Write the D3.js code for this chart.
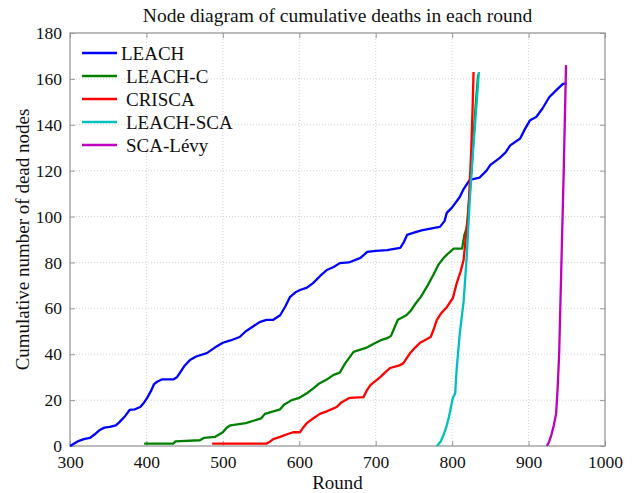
<!DOCTYPE html>
<html><head><meta charset="utf-8">
<script src="https://cdn.jsdelivr.net/npm/d3@7/dist/d3.min.js"></script>
<style>body{margin:0;background:#fff;} text{font-family:"Liberation Serif","Times New Roman",serif;fill:#111;}</style>
</head><body><svg id="chart" width="639" height="493"></svg>
<script>
const seriesNames = ["LEACH", "LEACH-C", "CRISCA", "LEACH-SCA", "SCA-Lévy"];
const seriesColors = ["#0000ff", "#008000", "#ff0000", "#00bfbf", "#bf00bf"];
const xTicks = [300, 400, 500, 600, 700, 800, 900, 1000];
const yTicks = [0, 20, 40, 60, 80, 100, 120, 140, 160, 180];

const leach = [[300,0],[305,1],[310,2],[318,3],[326,3.5],[332,5],[339,7],[345,8],[352,8.3],[360,9],[365,10.5],[372,13],[378,15.7],[385,16],[392,17],[397,19],[401,21],[406,24],[410,27],[414,28],[420,29],[435,29],[440,30],[444,32],[450,35],[457,37.5],[465,39],[479,40.5],[490,43],[500,45],[510,46],[522,47.5],[530,50],[539,52],[548,54],[557,55],[566,55],[575,57],[582,61],[588,65],[595,67],[601,68],[610,69],[618,71],[627,74],[636,76.7],[645,78],[653,79.7],[665,80],[680,82],[689,84.6],[700,85],[715,85.4],[732,86.3],[737,89],[741,92],[750,93],[760,94],[775,95],[784,95.5],[790,98],[793,101.6],[800,104],[810,108.5],[815,112],[823,116],[836,117],[845,120],[850,122.5],[862,125.5],[870,128],[876,131],[889,134],[895,138],[902,142],[910,143.4],[918,147],[927,152],[936,155],[945,157.8],[950,158]];
const leachC = [[397,1],[435,1],[438,2],[470,2.5],[475,3.5],[490,4],[495,5],[500,6],[505,8],[510,9],[530,10],[540,11],[550,12],[555,14],[565,15],[575,16],[580,18],[590,20],[600,21],[610,23],[618,25],[625,27],[636,29],[645,31],[653,32],[660,36],[671,41],[680,42],[689,43],[700,45],[706,46],[715,47],[720,48],[725,52],[729,55],[740,57],[746,59],[752,62],[759,65],[768,70],[776,75],[782,79],[789,82],[795,84],[802,86],[813,86],[816,92],[819,95],[823,110],[827,129],[830,145],[834,162]];
const crisca = [[486,1],[557,1],[562,2],[566,3],[575,4],[583,5],[592,6],[601,6],[605,8],[610,10],[618,12],[627,14],[635,15],[649,17],[655,19],[666,21],[684,21.3],[688,24],[693,26.5],[706,30],[712,32],[719,34],[730,35],[736,36],[745,40.5],[752,43],[758,45],[772,47.5],[776,51],[780,55],[786,58],[793,60.5],[801,64.5],[806,71],[811,76],[815,81],[819,95],[821,100],[823,114.6],[825,129],[827,150],[828,163]];
const leachSCA = [[780,0],[785,2],[789,5],[793,9],[796,13],[799,18],[801,21],[804,23],[806,34],[810,49],[815,63],[819,82],[823,107],[827,127],[831,145],[835,163]];
const scaLevy = [[924,0],[927,2],[930,5],[933,9],[936,14],[938,25],[940,40],[943,80],[946,120],[949,166]];
const seriesData = [leach, leachC, crisca, leachSCA, scaLevy];

const svg = d3.select("#chart");
const L = 70, R = 605, T = 33, B = 446;
const x = d3.scaleLinear().domain([300, 1000]).range([L, R]);
const y = d3.scaleLinear().domain([0, 180]).range([B, T]);

// grid
const grid = svg.append("g");
grid.selectAll(".vg").data(xTicks.slice(1, -1)).join("line")
  .attr("x1", d => x(d)).attr("x2", d => x(d)).attr("y1", T).attr("y2", B)
  .attr("stroke", "#c8c8c8").attr("stroke-width", 0.8).attr("stroke-dasharray", "1,2");
grid.selectAll(".hg").data(yTicks.slice(1, -1)).join("line")
  .attr("x1", L).attr("x2", R).attr("y1", d => y(d)).attr("y2", d => y(d))
  .attr("stroke", "#c8c8c8").attr("stroke-width", 0.8).attr("stroke-dasharray", "1,2");

// axes
const ax = (g, axis) => g.call(axis).call(s => s.select(".domain").remove())
  .call(s => s.selectAll(".tick line").attr("stroke", "#999"))
  .call(s => s.selectAll(".tick text").style("font-family", "Liberation Serif").style("font-size", "17.5px").attr("fill", "#111"));
svg.append("g").attr("transform", `translate(0,${B})`).call(g => ax(g, d3.axisBottom(x).tickValues(xTicks).tickSize(-5).tickPadding(10).tickFormat(d3.format("d"))));
svg.append("g").attr("transform", `translate(0,${T})`).call(g => ax(g, d3.axisTop(x).tickValues(xTicks).tickSize(-5).tickFormat("")));
svg.append("g").attr("transform", `translate(${L},0)`).call(g => ax(g, d3.axisLeft(y).tickValues(yTicks).tickSize(-5).tickPadding(8).tickFormat(d3.format("d"))));
svg.append("g").attr("transform", `translate(${R},0)`).call(g => ax(g, d3.axisRight(y).tickValues(yTicks).tickSize(-5).tickFormat("")));
svg.append("rect").attr("x", L).attr("y", T).attr("width", R - L).attr("height", B - T)
  .attr("fill", "none").attr("stroke", "#999").attr("stroke-width", 1.3);

// lines
const line = d3.line().x(d => x(d[0])).y(d => y(d[1]));
svg.append("g").selectAll("path").data(seriesData).join("path")
  .attr("d", line).attr("fill", "none")
  .attr("stroke", (d, i) => seriesColors[i]).attr("stroke-width", 2.3).attr("stroke-linejoin", "round");

// legend
const lg = svg.append("g");
seriesNames.forEach((n, i) => {
  const yy = 53 + i * 23;
  lg.append("line").attr("x1", 82).attr("x2", 117).attr("y1", yy).attr("y2", yy)
    .attr("stroke", seriesColors[i]).attr("stroke-width", 2.3);
  lg.append("text").attr("x", i === 0 ? 121 : 126).attr("y", yy).attr("dy", "0.35em")
    .style("font-size", "19px").text(n);
});

// titles
svg.append("text").attr("x", (L + R) / 2).attr("y", 22).attr("text-anchor", "middle")
  .style("font-size", "19.5px").text("Node diagram of cumulative deaths in each round");
svg.append("text").attr("x", (L + R) / 2).attr("y", 489).attr("text-anchor", "middle")
  .style("font-size", "19px").text("Round");
svg.append("text").attr("transform", `translate(29,${(T + B) / 2}) rotate(-90)`).attr("text-anchor", "middle")
  .style("font-size", "19px").text("Cumulative number of dead nodes");
</script></body></html>
